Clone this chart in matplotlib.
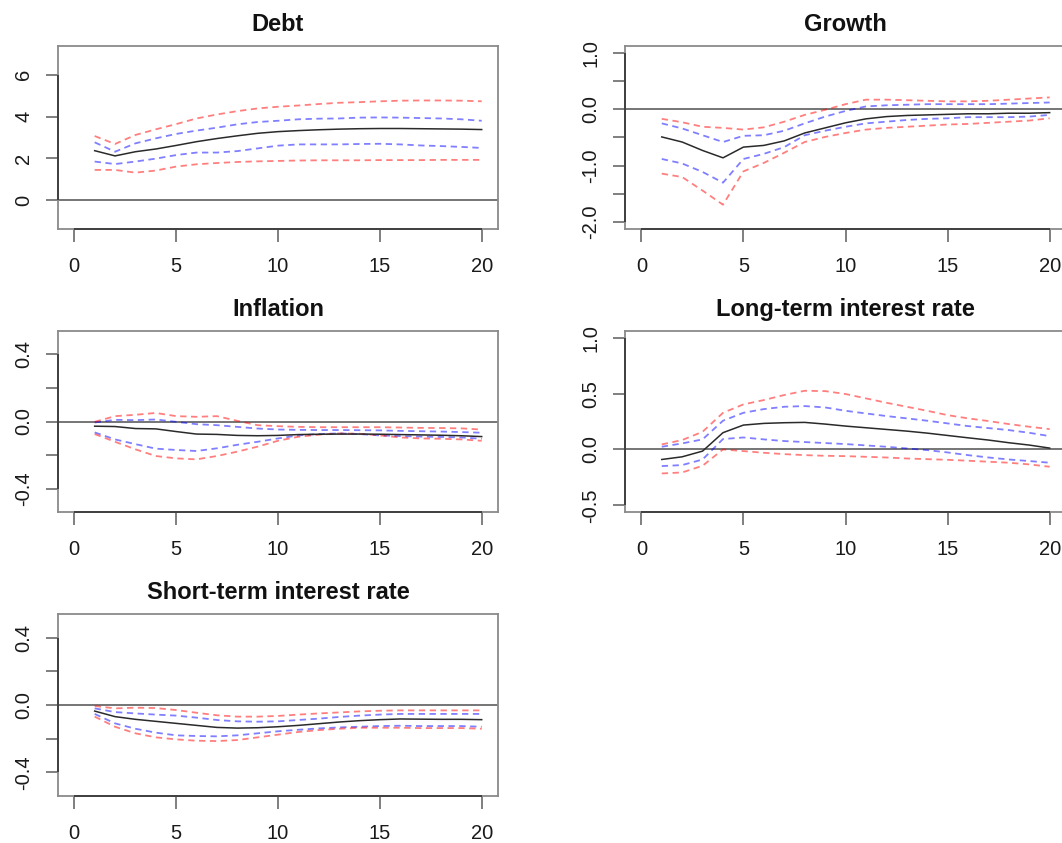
import numpy as np
import matplotlib
matplotlib.use('Agg')
import matplotlib.pyplot as plt

plt.rcParams['font.family'] = ['Liberation Sans', 'DejaVu Sans']

# horizons
steps = list(range(1, 21))

# Debt
debt_mid = [2.37, 2.12, 2.32, 2.45, 2.62, 2.80, 2.95, 3.08, 3.20, 3.28,
            3.33, 3.37, 3.40, 3.42, 3.43, 3.43, 3.42, 3.41, 3.40, 3.38]
debt_hi68 = [2.77, 2.32, 2.72, 2.96, 3.17, 3.33, 3.47, 3.63, 3.74, 3.80,
             3.87, 3.90, 3.91, 3.95, 3.96, 3.95, 3.93, 3.91, 3.87, 3.80]
debt_hi90 = [3.07, 2.69, 3.12, 3.39, 3.64, 3.91, 4.10, 4.26, 4.39, 4.47,
             4.53, 4.60, 4.66, 4.69, 4.73, 4.76, 4.77, 4.77, 4.76, 4.73]
debt_lo68 = [1.85, 1.73, 1.85, 1.99, 2.16, 2.28, 2.28, 2.35, 2.48, 2.61,
             2.67, 2.67, 2.67, 2.69, 2.70, 2.67, 2.62, 2.59, 2.55, 2.50]
debt_lo90 = [1.45, 1.45, 1.32, 1.42, 1.61, 1.72, 1.78, 1.83, 1.86, 1.88,
             1.90, 1.91, 1.91, 1.91, 1.92, 1.92, 1.92, 1.93, 1.93, 1.93]

# Growth
growth_mid = [-0.49, -0.58, -0.73, -0.86, -0.67, -0.64, -0.56, -0.42, -0.33, -0.24,
              -0.17, -0.13, -0.11, -0.10, -0.09, -0.08, -0.08, -0.07, -0.07, -0.06]
growth_hi68 = [-0.25, -0.34, -0.46, -0.58, -0.47, -0.46, -0.38, -0.25, -0.13, -0.03,
               0.05, 0.07, 0.08, 0.09, 0.09, 0.09, 0.09, 0.10, 0.11, 0.12]
growth_hi90 = [-0.17, -0.23, -0.31, -0.33, -0.36, -0.32, -0.22, -0.10, -0.01, 0.09,
               0.17, 0.17, 0.16, 0.15, 0.14, 0.14, 0.15, 0.17, 0.19, 0.21]
growth_lo68 = [-0.88, -0.96, -1.11, -1.30, -0.88, -0.79, -0.67, -0.46, -0.38, -0.31,
               -0.25, -0.22, -0.19, -0.17, -0.16, -0.14, -0.14, -0.14, -0.13, -0.10]
growth_lo90 = [-1.14, -1.20, -1.44, -1.69, -1.10, -0.95, -0.77, -0.58, -0.49, -0.42,
               -0.36, -0.33, -0.31, -0.29, -0.27, -0.26, -0.24, -0.22, -0.20, -0.16]

# Inflation
infl_mid = [-0.028, -0.030, -0.042, -0.044, -0.060, -0.075, -0.077, -0.083, -0.085, -0.083,
            -0.078, -0.076, -0.075, -0.075, -0.076, -0.078, -0.080, -0.082, -0.085, -0.090]
infl_hi68 = [-0.006, 0.010, 0.008, 0.012, -0.002, -0.016, -0.022, -0.032, -0.042, -0.048,
             -0.050, -0.051, -0.051, -0.052, -0.053, -0.056, -0.058, -0.060, -0.063, -0.067]
infl_hi90 = [-0.002, 0.032, 0.040, 0.051, 0.032, 0.028, 0.032, 0.004, -0.022, -0.028,
             -0.032, -0.034, -0.034, -0.034, -0.034, -0.036, -0.038, -0.039, -0.041, -0.048]
infl_lo68 = [-0.065, -0.107, -0.135, -0.162, -0.170, -0.176, -0.160, -0.139, -0.121, -0.101,
             -0.083, -0.075, -0.071, -0.075, -0.083, -0.087, -0.090, -0.092, -0.095, -0.103]
infl_lo90 = [-0.075, -0.121, -0.166, -0.206, -0.220, -0.226, -0.206, -0.180, -0.150, -0.115,
             -0.091, -0.079, -0.071, -0.073, -0.083, -0.095, -0.101, -0.103, -0.107, -0.115]

# Long-term interest rate
long_mid = [-0.090, -0.066, -0.015, 0.150, 0.218, 0.233, 0.239, 0.242, 0.227, 0.209,
            0.194, 0.179, 0.164, 0.146, 0.125, 0.104, 0.084, 0.060, 0.039, 0.012]
long_hi68 = [0.024, 0.054, 0.090, 0.257, 0.328, 0.361, 0.382, 0.388, 0.376, 0.346,
             0.322, 0.299, 0.278, 0.257, 0.233, 0.209, 0.191, 0.173, 0.149, 0.119]
long_hi90 = [0.045, 0.084, 0.158, 0.328, 0.403, 0.442, 0.487, 0.525, 0.522, 0.496,
             0.457, 0.418, 0.382, 0.346, 0.307, 0.278, 0.254, 0.227, 0.203, 0.182]
long_lo68 = [-0.149, -0.140, -0.090, 0.093, 0.107, 0.090, 0.075, 0.066, 0.057, 0.048,
             0.036, 0.024, 0.009, -0.006, -0.027, -0.051, -0.072, -0.090, -0.104, -0.119]
long_lo90 = [-0.215, -0.206, -0.146, 0.000, -0.015, -0.030, -0.042, -0.051, -0.057, -0.060,
             -0.066, -0.072, -0.081, -0.087, -0.093, -0.101, -0.110, -0.119, -0.134, -0.155]

# Short-term interest rate
short_mid = [-0.036, -0.069, -0.085, -0.097, -0.109, -0.121, -0.133, -0.137, -0.135, -0.129,
             -0.121, -0.111, -0.101, -0.093, -0.087, -0.083, -0.084, -0.085, -0.085, -0.087]
short_hi68 = [-0.020, -0.042, -0.050, -0.057, -0.063, -0.075, -0.089, -0.097, -0.099, -0.097,
              -0.089, -0.081, -0.071, -0.063, -0.057, -0.053, -0.053, -0.053, -0.053, -0.053]
short_hi90 = [-0.006, -0.020, -0.016, -0.018, -0.030, -0.046, -0.061, -0.069, -0.069, -0.065,
              -0.057, -0.050, -0.044, -0.038, -0.034, -0.032, -0.032, -0.032, -0.032, -0.032]
short_lo68 = [-0.053, -0.109, -0.141, -0.164, -0.180, -0.184, -0.186, -0.180, -0.168, -0.156,
              -0.147, -0.139, -0.133, -0.129, -0.125, -0.123, -0.125, -0.125, -0.125, -0.129]
short_lo90 = [-0.069, -0.129, -0.168, -0.192, -0.204, -0.212, -0.214, -0.208, -0.192, -0.176,
              -0.160, -0.149, -0.141, -0.135, -0.135, -0.135, -0.137, -0.137, -0.137, -0.141]

titles = ['Debt', 'Growth', 'Inflation', 'Long-term interest rate', 'Short-term interest rate']
series = [
    (debt_mid, debt_lo68, debt_hi68, debt_lo90, debt_hi90),
    (growth_mid, growth_lo68, growth_hi68, growth_lo90, growth_hi90),
    (infl_mid, infl_lo68, infl_hi68, infl_lo90, infl_hi90),
    (long_mid, long_lo68, long_hi68, long_lo90, long_hi90),
    (short_mid, short_lo68, short_hi68, short_lo90, short_hi90),
]
y_ranges = [(-1.05, 7.05), (-2.0, 1.0), (-0.5, 0.5), (-0.5, 1.0), (-0.5, 0.5)]
y_ticks = [[0, 2, 4, 6],
           [-2.0, -1.5, -1.0, -0.5, 0.0, 0.5, 1.0],
           [-0.4, -0.2, 0.0, 0.2, 0.4],
           [-0.5, 0.0, 0.5, 1.0],
           [-0.4, -0.2, 0.0, 0.2, 0.4]]
y_labels = [['0', '2', '4', '6'],
            ['-2.0', '', '-1.0', '', '0.0', '', '1.0'],
            ['-0.4', '', '0.0', '', '0.4'],
            ['-0.5', '0.0', '0.5', '1.0'],
            ['-0.4', '', '0.0', '', '0.4']]
x_ticks = [0, 5, 10, 15, 20]

# panel boxes in pixels: (left, top, right, bottom)
W, H = 1062, 843
boxes = [(58, 46, 498, 229), (625, 46, 1066, 229),
         (58, 331, 498, 512), (625, 331, 1066, 512),
         (58, 614, 498, 796)]

fig = plt.figure(figsize=(W / 100, H / 100), dpi=100)

box_col = '#8a8a8a'
axis_col = '#3a3a3a'

for i, (l, t, r, b) in enumerate(boxes):
    ax = fig.add_axes([l / W, 1 - b / H, (r - l) / W, (b - t) / H])
    mid, lo68, hi68, lo90, hi90 = series[i]

    ax.axhline(0, color='#5e5e5e', lw=1.2, zorder=1)
    ax.plot(steps, mid, color='#2a2a2a', lw=1.1, zorder=3)
    for s in (hi68, lo68):
        ax.plot(steps, s, color='blue', alpha=0.5, lw=1.3, dashes=(3.5, 2.5), zorder=2)
    for s in (hi90, lo90):
        ax.plot(steps, s, color='red', alpha=0.5, lw=1.3, dashes=(3.5, 2.5), zorder=2)

    y0, y1 = y_ranges[i]
    pad = 0.04 * (y1 - y0)
    ax.set_ylim(y0 - pad, y1 + pad)
    ax.set_xlim(-0.8, 20.8)

    ax.set_xticks(x_ticks)
    ax.set_xticklabels([str(v) for v in x_ticks])
    ax.set_yticks(y_ticks[i])
    ax.set_yticklabels(y_labels[i], rotation=90, va='center')

    ax.tick_params(axis='both', direction='out', length=9, width=1.2,
                   color='#6a6a6a', labelsize=14.5, labelcolor='#1a1a1a')
    ax.tick_params(axis='x', pad=11)
    ax.tick_params(axis='y', pad=9)

    for sp in ax.spines.values():
        sp.set_color(box_col)
        sp.set_linewidth(1.3)

    # R-style axis lines spanning first..last tick
    yb = ax.get_ylim()[0]
    xl = ax.get_xlim()[0]
    ax.plot([x_ticks[0], x_ticks[-1]], [yb, yb], color=axis_col, lw=1.3,
            clip_on=False, zorder=5, solid_capstyle='butt')
    ax.plot([xl, xl], [y_ticks[i][0], y_ticks[i][-1]], color=axis_col, lw=1.3,
            clip_on=False, zorder=5, solid_capstyle='butt')

    ax.set_title(titles[i], fontsize=17, fontweight='bold', pad=11, color='#111111')

fig.savefig('out.png', dpi=100)
